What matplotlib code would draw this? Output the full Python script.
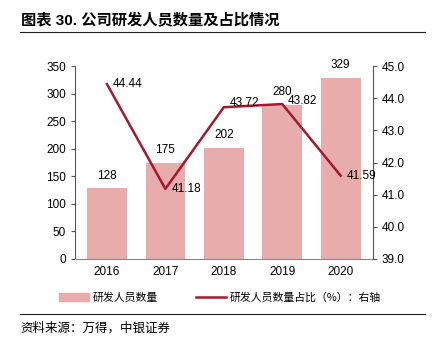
import matplotlib.pyplot as plt
from matplotlib.lines import Line2D
from matplotlib.patches import Patch

plt.rcParams['font.family'] = ['Liberation Sans', 'Noto Sans CJK SC', 'DejaVu Sans']

years = ["2016", "2017", "2018", "2019", "2020"]
staff = [128, 175, 202, 280, 329]
ratio = [44.44, 41.18, 43.72, 43.82, 41.59]

bar_color = "#e8acac"
line_color = "#a31a2e"
cjk = ['Noto Sans CJK SC', 'DejaVu Sans']
mixed = ['Liberation Sans', 'Noto Sans CJK SC', 'DejaVu Sans']

fig = plt.figure(figsize=(4.35, 3.48), dpi=100)
ax = fig.add_axes([0.172, 0.256, 0.685, 0.554])
x = list(range(len(years)))
ax.bar(x, staff, width=0.68, color=bar_color, zorder=1)
for xi, v in zip(x, staff):
    ax.text(xi, v + 12, str(v), ha="center", va="bottom", fontsize=8.5)
ax.set_ylim(0, 350)
ax.set_yticks(range(0, 351, 50))
ax.set_xlim(-0.55, 4.55)
ax.set_xticks(x)
ax.set_xticklabels(years)
ax.tick_params(axis="x", length=0, labelsize=8.5, pad=5)
ax.tick_params(axis="y", direction="out", length=3, labelsize=8.5, color="#555555")
for s in ["top", "right"]:
    ax.spines[s].set_visible(False)
ax.spines["left"].set_color("#555555")
ax.spines["bottom"].set_color("#888888")

ax2 = ax.twinx()
ax2.plot(x, ratio, color=line_color, linewidth=1.8, zorder=3)
ax2.set_ylim(39, 45)
ax2.set_yticks([39, 40, 41, 42, 43, 44, 45])
ax2.set_yticklabels([f"{t:.1f}" for t in [39, 40, 41, 42, 43, 44, 45]])
ax2.tick_params(axis="y", direction="out", length=3, labelsize=8.5, color="#555555")
for s in ["top", "left", "bottom"]:
    ax2.spines[s].set_visible(False)
ax2.spines["right"].set_color("#555555")
offsets = [(0.1, 0.0), (0.1, 0.0), (0.1, 0.12), (0.1, 0.08), (0.1, 0.0)]
for xi, v, (dx, dy) in zip(x, ratio, offsets):
    ax2.text(xi + dx, v + dy, f"{v:.2f}", ha="left", va="center", fontsize=8.5)

fig.text(0.048, 0.942, "图表 30. 公司研发人员数量及占比情况", fontsize=11, fontweight="bold",
         family=mixed, va="center")
fig.add_artist(Line2D([0.046, 0.978], [0.907, 0.907], color="#222222", linewidth=0.8))
fig.add_artist(Line2D([0.046, 0.978], [0.097, 0.097], color="#222222", linewidth=0.8))
fig.text(0.048, 0.058, "资料来源：万得，中银证券", fontsize=9, family=cjk, style="italic", va="center")

handles = [Patch(color=bar_color), Line2D([0], [0], color=line_color, linewidth=1.8)]
labels = ["研发人员数量", "研发人员数量占比（%）：右轴"]
fig.legend(handles, labels, loc="center", bbox_to_anchor=(0.505, 0.145), ncol=2, frameon=False,
           prop={"family": cjk, "size": 7.8}, handlelength=2.8, handleheight=0.8, columnspacing=3.5,
           handletextpad=0.3)

fig.savefig("out.png", dpi=100)
